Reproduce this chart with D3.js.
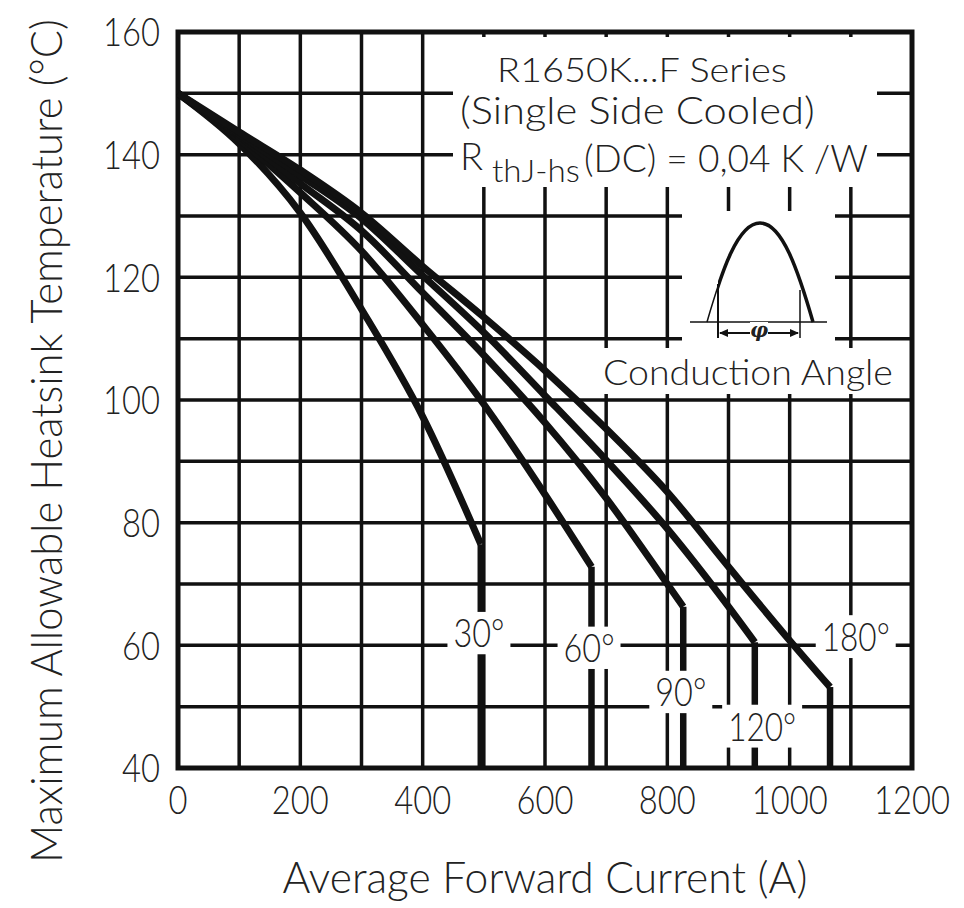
<!DOCTYPE html>
<html>
<head>
<meta charset="utf-8">
<script src="https://cdn.jsdelivr.net/npm/d3@7"></script>
<style>
  body { margin: 0; background: #fff; }
  svg { display: block; }
  text { font-family: "Lato", "Open Sans", sans-serif; font-weight: 300; fill: #222; }
</style>
</head>
<body>
<div id="chart"></div>
<script>
// Tick values
const currentTicks = [0, 200, 400, 600, 800, 1000, 1200];
const tempTicks = [40, 60, 80, 100, 120, 140, 160];

// Curves: [current (A), temperature (°C)]
const curve30 = [[0, 150], [100, 141.8], [200, 130.5], [300, 114.8], [400, 97.3], [495, 76.5]];
const curve60 = [[0, 150], [100, 142.5], [200, 133.8], [300, 124.3], [400, 112.3], [500, 99.3], [600, 84.6], [676, 72.8]];
const curve90 = [[0, 150], [100, 143], [200, 135.3], [300, 127.6], [400, 117.5], [500, 107.3], [600, 96.3], [700, 84], [800, 70], [826, 66.3]];
const curve120 = [[0, 150], [100, 143.3], [200, 136.6], [300, 129.6], [400, 120.3], [500, 111], [600, 100.7], [700, 90.2], [800, 79], [900, 66.3], [943, 60.5]];
const curve180 = [[0, 150], [100, 143.7], [200, 137.5], [300, 130.5], [400, 121.8], [500, 113.5], [600, 104.8], [700, 95.3], [800, 85], [900, 72.8], [1000, 60.8], [1066, 53.2]];

const angleLabels = ["30°", "60°", "90°", "120°", "180°"];
const labelCurrent = [492, 672, 822, 955, 1108];
const labelTemp = [62, 59.6, 52.4, 46.8, 61.4];

const curves = [curve30, curve60, curve90, curve120, curve180];

const width = 964, height = 908;
const margin = { top: 32, right: 52, bottom: 140, left: 178 };

const svg = d3.select("#chart")
    .append("svg")
    .attr("width", width)
    .attr("height", height);

const x = d3.scaleLinear().domain([0, 1200]).range([margin.left, width - margin.right]);
const y = d3.scaleLinear().domain([40, 160]).range([height - margin.bottom, margin.top]);

// narrow thin lettering like the datasheet: squeeze text horizontally to a width
function label(parent, str, size, px, py, o = {}) {
    const t = parent.append("text")
        .style("font-size", size + "px")
        .attr("text-anchor", o.anchor || "start")
        .attr("dy", o.dy || null)
        .text(str);
    const k = o.len ? o.len / t.node().getComputedTextLength() : 1;
    t.attr("transform", `translate(${px},${py})${o.rotate ? ` rotate(${o.rotate})` : ""} scale(${k},1)`);
    return t;
}

// grid every 100 A / 10 °C
const grid = svg.append("g").attr("stroke", "#111").attr("stroke-width", 3.5);
grid.selectAll(".vx")
    .data(d3.range(100, 1200, 100))
    .join("line")
    .attr("x1", d => x(d)).attr("x2", d => x(d))
    .attr("y1", y(160)).attr("y2", y(40));
grid.selectAll(".hy")
    .data(d3.range(50, 160, 10))
    .join("line")
    .attr("x1", x(0)).attr("x2", x(1200))
    .attr("y1", d => y(d)).attr("y2", d => y(d));

// white areas behind the annotation text
const boxes = svg.append("g").attr("fill", "#fff");
boxes.append("rect").attr("x", 453).attr("y", 37).attr("width", 424).attr("height", 150);
boxes.append("rect").attr("x", 682).attr("y", 211).attr("width", 153).attr("height", 137);
boxes.append("rect").attr("x", 598).attr("y", 348).attr("width", 299).attr("height", 46);

// frame
svg.append("rect")
    .attr("x", x(0)).attr("y", y(160))
    .attr("width", x(1200) - x(0)).attr("height", y(40) - y(160))
    .attr("fill", "none").attr("stroke", "#111").attr("stroke-width", 5);

// curves
const line = d3.line()
    .x(d => x(d[0]))
    .y(d => y(d[1]))
    .curve(d3.curveMonotoneX);

const curveG = svg.append("g")
    .attr("fill", "none").attr("stroke", "#111").attr("stroke-width", 7)
    .attr("stroke-linejoin", "round");

curveG.selectAll("path.curve")
    .data(curves)
    .join("path")
    .attr("class", "curve")
    .attr("d", line);

// vertical drop at the end of every curve
curveG.selectAll("line.drop")
    .data(curves)
    .join("line")
    .attr("class", "drop")
    .attr("stroke-width", 6.5)
    .attr("x1", d => x(d[d.length - 1][0]))
    .attr("x2", d => x(d[d.length - 1][0]))
    .attr("y1", d => y(d[d.length - 1][1]))
    .attr("y2", y(40));

// angle labels with a white patch behind
const labelG = svg.append("g");
angleLabels.forEach((lab, i) => {
    const g = labelG.append("g");
    const t = label(g, lab, 40, x(labelCurrent[i]), y(labelTemp[i]),
        { anchor: "middle", dy: "0.36em", len: lab.length * 17 });
    const b = t.node().getBoundingClientRect();
    g.insert("rect", "text")
        .attr("x", b.left - 6).attr("y", b.top + 4)
        .attr("width", b.width + 12).attr("height", b.height - 6)
        .attr("fill", "#fff");
});

// axes labels
const xt = svg.append("g");
currentTicks.forEach(d => label(xt, String(d), 40, x(d), 814, { anchor: "middle", len: String(d).length * 19 }));
const yt = svg.append("g");
tempTicks.forEach(d => label(yt, String(d), 40, 160, y(d), { anchor: "end", dy: "0.36em", len: String(d).length * 19 }));

label(svg, "Average Forward Current (A)", 44, (x(0) + x(1200)) / 2, 893, { anchor: "middle", len: 525 });
label(svg, "Maximum Allowable Heatsink Temperature (°C)", 44, 62, 441, { anchor: "middle", rotate: -90, len: 844 });

// annotation text
label(svg, "R1650K...F Series", 34, 497, 82, { len: 290 });
label(svg, "(Single Side Cooled)", 38, 460, 124, { len: 355 });
label(svg, "R", 38, 460, 170);
label(svg, "thJ-hs", 32, 492, 182, { len: 88 });
label(svg, "(DC) = 0,04 K /W", 38, 584, 172, { len: 284 });
label(svg, "Conduction Angle", 36, 603, 385, { len: 290 });

// conduction angle sketch
const ico = svg.append("g").attr("fill", "none").attr("stroke", "#111");
ico.append("line").attr("x1", 690).attr("x2", 827).attr("y1", 322).attr("y2", 322).attr("stroke-width", 1.5);
const arch = "M707,322 C722,270 738,223 760,223 C782,223 798,270 813,322";
ico.append("path").attr("d", arch).attr("stroke-width", 1.5);
svg.append("clipPath").attr("id", "cond")
    .append("rect").attr("x", 718).attr("y", 200).attr("width", 110).attr("height", 130);
ico.append("path").attr("d", arch).attr("stroke-width", 3.5).attr("clip-path", "url(#cond)");
ico.append("line").attr("x1", 718).attr("x2", 718).attr("y1", 284).attr("y2", 338).attr("stroke-width", 2);
ico.append("line").attr("x1", 800).attr("x2", 800).attr("y1", 290).attr("y2", 338).attr("stroke-width", 1.5);
ico.append("line").attr("x1", 720).attr("x2", 798).attr("y1", 333).attr("y2", 333).attr("stroke-width", 2);
ico.append("path").attr("d", "M719,333 l9,-4 v8 z M799,333 l-9,-4 v8 z").attr("fill", "#111").attr("stroke", "none");
svg.append("rect").attr("x", 750).attr("y", 322).attr("width", 18).attr("height", 18).attr("fill", "#fff");
svg.append("text")
    .attr("x", 759).attr("y", 337)
    .attr("text-anchor", "middle")
    .style("font-size", "20px").style("font-weight", "bold").style("font-style", "italic")
    .style("font-family", "DejaVu Serif, serif")
    .text("φ");
</script>
</body>
</html>
